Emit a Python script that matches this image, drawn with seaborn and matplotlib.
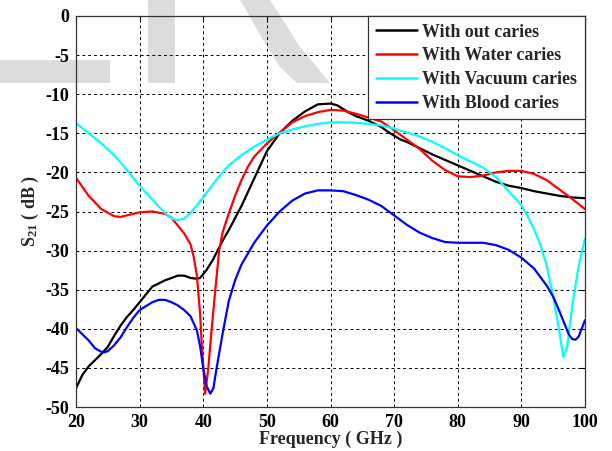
import numpy as np
import pandas as pd
import matplotlib
matplotlib.use("Agg")
import matplotlib.pyplot as plt
import matplotlib.patches as mpatches
import seaborn as sns

# ---------------- data ----------------
series_names = ["With out caries", "With Water caries", "With Vacuum caries", "With Blood caries"]
series_colors = ["#000000", "#ff0000", "#00ffff", "#0000ff"]

freq_without = [20, 21, 22, 23, 24, 25, 26, 27, 28, 29, 30, 32, 34, 36, 37, 38, 39, 39.5, 40.5, 41.5,
                43, 44, 46, 48, 50, 52, 54, 56, 58, 60, 61, 62, 63, 64, 66, 68, 69, 70, 71, 72,
                74, 76, 78, 80, 82, 84, 86, 88, 90, 92, 94, 96, 98, 100]
s21_without = [-47.6, -45.9, -44.8, -44.0, -43.2, -42.3, -40.9, -39.6, -38.5, -37.6, -36.6, -34.6, -33.8, -33.2, -33.2, -33.5, -33.6, -33.5, -32.5, -31.2,
               -28.8, -27.4, -24.3, -20.8, -17.3, -15.0, -13.4, -12.2, -11.3, -11.2, -11.4, -11.9, -12.4, -12.8, -13.4, -14.2, -14.8, -15.3, -15.8, -16.1,
               -16.9, -17.7, -18.4, -19.1, -19.8, -20.5, -21.2, -21.7, -22.0, -22.4, -22.7, -23.0, -23.2, -23.3]

freq_water = [20, 22, 24, 26, 27, 28, 30, 32, 34, 35, 36, 37, 38, 38.5, 39, 39.5, 39.8, 40.3, 40.8, 41.3,
              41.9, 42.5, 43, 43.5, 44, 45, 46, 47, 48, 50, 52, 54, 56, 58, 60, 62, 64, 66, 68, 70,
              72, 74, 76, 78, 80, 82, 84, 86, 88, 90, 92, 94, 96, 98, 100]
s21_water = [-20.7, -23.0, -24.7, -25.6, -25.7, -25.5, -25.1, -25.0, -25.3, -25.8, -26.8, -27.8, -29.2, -30.8, -33.2, -38.0, -42.5, -48.3, -45.0, -40.2,
             -35.0, -30.0, -27.8, -26.5, -25.3, -23.0, -21.0, -19.3, -18.0, -16.3, -14.9, -13.6, -12.8, -12.3, -12.0, -12.1, -12.5, -13.0, -13.5, -14.6,
             -15.8, -17.0, -18.5, -19.7, -20.5, -20.6, -20.4, -20.0, -19.8, -19.8, -20.2, -21.0, -22.2, -23.4, -24.7]

freq_vacuum = [20, 22, 24, 26, 28, 30, 32, 34, 35, 36, 37, 38, 40, 42, 44, 46, 48, 50, 52, 54,
               56, 58, 60, 62, 64, 66, 68, 70, 72, 74, 76, 78, 80, 82, 84, 86, 88, 90, 91, 92,
               93, 94, 95, 96, 96.6, 97.2, 98, 99, 100]
s21_vacuum = [-13.7, -15.0, -16.3, -17.8, -19.7, -21.7, -23.5, -25.2, -25.9, -26.1, -25.9, -25.2, -23.2, -21.0, -19.1, -17.8, -16.7, -15.8, -15.0, -14.5,
              -14.1, -13.8, -13.6, -13.6, -13.65, -13.8, -14.0, -14.4, -14.9, -15.4, -16.1, -16.9, -17.8, -18.6, -19.4, -20.6, -22.4, -24.2, -25.6, -27.3,
              -29.3, -32.0, -35.9, -40.5, -43.6, -42.3, -37.0, -32.0, -28.5]

freq_blood = [20, 22, 23, 24, 24.5, 25, 26, 27, 28, 29, 30, 32, 33, 34, 35, 36, 37, 38, 39, 39.5,
              40, 40.5, 41.1, 41.6, 42, 43, 44, 45, 46, 48, 50, 52, 54, 56, 58, 60, 62, 64, 66, 68,
              70, 72, 74, 76, 78, 80, 82, 84, 86, 88, 90, 92, 94, 95, 96, 97, 97.5, 98, 98.5, 99,
              100]
s21_blood = [-39.9, -41.5, -42.5, -42.95, -43.0, -42.85, -42.1, -41.1, -39.8, -38.6, -37.6, -36.6, -36.3, -36.3, -36.6, -37.0, -37.6, -38.4, -40.2, -42.2,
             -45.0, -47.3, -48.3, -47.6, -45.5, -40.8, -36.5, -33.8, -31.8, -29.0, -26.8, -25.0, -23.6, -22.7, -22.3, -22.3, -22.4, -22.9, -23.5, -24.3,
             -25.5, -26.7, -27.7, -28.4, -28.9, -29.0, -29.0, -29.0, -29.3, -29.9, -30.9, -32.3, -34.5, -35.9, -37.8, -39.8, -40.8, -41.3, -41.4, -41.0,
             -38.9]

x_ticks = [20, 30, 40, 50, 60, 70, 80, 90, 100]
y_ticks = [-50, -45, -40, -35, -30, -25, -20, -15, -10, -5, 0]
x_label = "Frequency ( GHz )"
y_label = r"S$_{21}$ ( dB )"

# ---------------- build long-form table ----------------
frames = []
for name, fx, fy in zip(series_names,
                        [freq_without, freq_water, freq_vacuum, freq_blood],
                        [s21_without, s21_water, s21_vacuum, s21_blood]):
    frames.append(pd.DataFrame({"Frequency": fx, "S21": fy, "Series": name}))
df = pd.concat(frames, ignore_index=True)

# ---------------- style ----------------
sns.set_style("white")
plt.rcParams["font.family"] = ["Liberation Serif", "DejaVu Serif"]
plt.rcParams["font.weight"] = "bold"
plt.rcParams["mathtext.fontset"] = "custom"
plt.rcParams["mathtext.rm"] = "Liberation Serif:bold"
plt.rcParams["mathtext.it"] = "Liberation Serif:bold"
plt.rcParams["mathtext.bf"] = "Liberation Serif:bold"
plt.rcParams["mathtext.default"] = "rm"

fig = plt.figure(figsize=(6.12, 4.51), dpi=100)
fig.patch.set_facecolor("white")

# faint watermark shapes (figure pixel coords, origin top-left)
W, H = 612.0, 451.0
def fpoly(pts):
    return [(x / W, 1 - y / H) for x, y in pts]
wm_color = "#dcdcdc"
for pts in [
    [(0, 60), (110, 60), (110, 83), (0, 83)],
    [(148, 0), (175, 0), (175, 83), (148, 83)],
    [(240, 0), (250, 17), (263, 40), (280, 67), (297, 83), (330, 83), (317, 67), (300, 47), (283, 20), (270, 0)],
]:
    fig.patches.append(mpatches.Polygon(fpoly(pts), closed=True, transform=fig.transFigure,
                                        facecolor=wm_color, edgecolor="none", zorder=-1))

ax = fig.add_axes([76 / W, 1 - 407 / H, (585 - 76) / W, (407 - 16) / H])
ax.set_facecolor("none")

sns.lineplot(data=df, x="Frequency", y="S21", hue="Series", hue_order=series_names,
             palette=series_colors, estimator=None, sort=False, linewidth=1.6, ax=ax)

ax.set_xlim(20, 100)
ax.set_ylim(-50, 0)
ax.set_xticks(x_ticks)
ax.set_yticks(y_ticks)
ax.set_xticklabels([str(t) for t in x_ticks])
ax.set_yticklabels([str(t) for t in y_ticks])
ax.tick_params(direction="in", length=4, width=0.8, top=True, right=True,
               labelsize=13, pad=5, colors="black")
for lab in ax.get_xticklabels() + ax.get_yticklabels():
    lab.set_fontweight("bold")

ax.grid(True, color="black", linestyle=(0, (3, 3)), linewidth=0.7)
for sp in ax.spines.values():
    sp.set_visible(True)
    sp.set_color("#333333")
    sp.set_linewidth(0.9)

ax.set_xlabel(x_label, fontsize=13, fontweight="bold", labelpad=0)
ax.set_ylabel(y_label, fontsize=13, fontweight="bold", labelpad=3)

leg = ax.legend(loc="upper right", bbox_to_anchor=(1.0, 1.0), borderaxespad=0,
                frameon=True, fancybox=False, handlelength=2.3,
                handletextpad=0.3, labelspacing=0.38, borderpad=0.42,
                prop={"weight": "bold", "size": 12.9})
leg.get_frame().set_edgecolor("#333333")
leg.get_frame().set_linewidth(0.9)
leg.get_frame().set_facecolor("white")
leg.get_frame().set_alpha(1)
for line in leg.get_lines():
    line.set_linewidth(1.8)

fig.savefig("out.png", dpi=100, facecolor="white")
